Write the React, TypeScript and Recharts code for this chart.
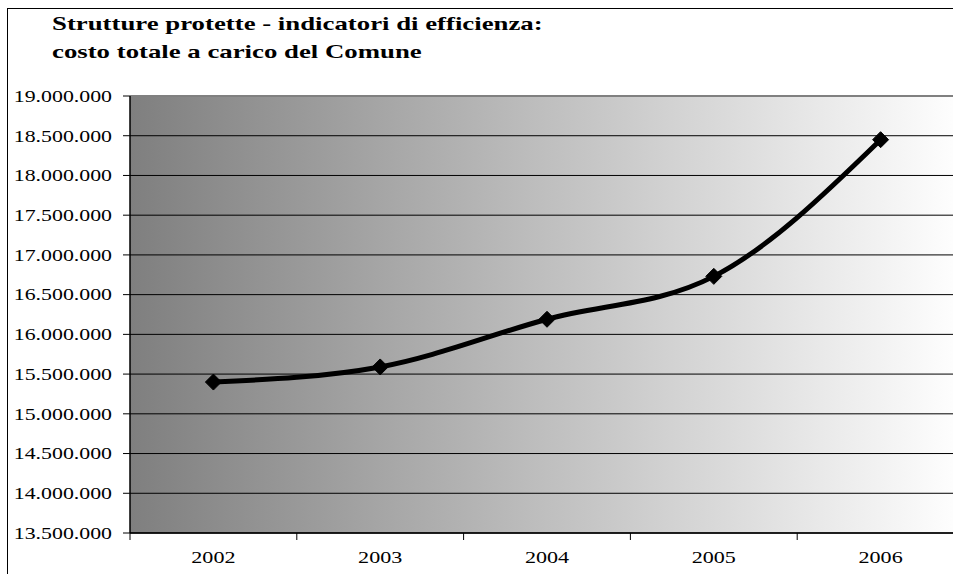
import React from 'react';
import { LineChart, Line, XAxis, YAxis, CartesianGrid, ReferenceLine } from 'recharts';

const titleLines = [
  'Strutture protette - indicatori di efficienza:',
  'costo totale a carico del Comune',
];
const years = ['2002', '2003', '2004', '2005', '2006'];
const costs = [15400000, 15590000, 16190000, 16730000, 18450000];
const yTicks = [
  13500000, 14000000, 14500000, 15000000, 15500000, 16000000,
  16500000, 17000000, 17500000, 18000000, 18500000, 19000000,
];

const data = years.map((year, i) => ({ pos: i + 0.5, year, cost: costs[i] }));
const xTicks: number[] = [];
years.forEach((_, i) => {
  xTicks.push(i);
  xTicks.push(i + 0.5);
});
xTicks.push(years.length);

const FONT = 'Liberation Serif, Times New Roman, serif';
const SX = 1.3;

const fmt = (v: number) => String(Math.round(v)).replace(/\B(?=(\d{3})+(?!\d))/g, '.');

const YTick = (props: any) => {
  const { x, y, payload } = props;
  return (
    <g transform={`translate(${x},${y})`}>
      <text
        transform={`scale(${SX},1)`}
        textAnchor="end"
        dy={5.8}
        style={{ fontFamily: FONT, fontSize: 16.8 }}
        fill="#000"
      >
        {fmt(payload.value)}
      </text>
    </g>
  );
};

const XTick = (props: any) => {
  const { x, y, payload } = props;
  const v = payload.value as number;
  if (Number.isInteger(v)) {
    return <line x1={x} x2={x} y1={y} y2={y + 7} stroke="#000" strokeWidth={1} />;
  }
  const label = years[Math.floor(v)];
  return (
    <g transform={`translate(${x},${y + 30})`}>
      <text transform={`scale(${SX},1)`} textAnchor="middle" style={{ fontFamily: FONT, fontSize: 17 }} fill="#000">
        {label}
      </text>
    </g>
  );
};

const Diamond = (props: any) => {
  const { cx, cy, index } = props;
  const r = 8;
  return (
    <path
      key={`d-${index}`}
      d={`M${cx - r},${cy} L${cx},${cy - r} L${cx + r},${cy} L${cx},${cy + r} Z`}
      fill="#000"
      stroke="#000"
    />
  );
};

export default function App() {
  return (
    <div
      style={{
        position: 'fixed',
        left: 0,
        top: 0,
        width: 953,
        height: 574,
        overflow: 'hidden',
        background: '#fff',
      }}
    >
      <div
        style={{
          position: 'absolute',
          left: 7,
          top: 8,
          width: 2000,
          height: 2000,
          borderLeft: '1px solid #000',
          borderTop: '1px solid #000',
        }}
      />
      <div style={{ position: 'absolute', left: 0, top: 0 }}>
        <LineChart width={970} height={574} data={data} margin={{ top: 96, right: 6, left: 0, bottom: 0 }}>
          <defs>
            <linearGradient id="plotBg" x1="0" y1="0" x2="1" y2="0">
              <stop offset="0%" stopColor="#7f7f7f" />
              <stop offset="100%" stopColor="#ffffff" />
            </linearGradient>
          </defs>
          <CartesianGrid
            vertical={false}
            horizontal
            stroke="#000"
            strokeWidth={1}
            fill="url(#plotBg)"
            fillOpacity={1}
          />
          <XAxis
            dataKey="pos"
            type="number"
            domain={[0, years.length]}
            ticks={xTicks}
            interval={0}
            tickLine={false}
            tickSize={0}
            tickMargin={0}
            axisLine={{ stroke: '#000', strokeWidth: 1.5 }}
            tick={<XTick />}
            height={41}
          />
          <YAxis
            type="number"
            domain={[13500000, 19000000]}
            ticks={yTicks}
            interval={0}
            width={130}
            tickSize={7}
            tickMargin={11}
            tickLine={{ stroke: '#000' }}
            axisLine={{ stroke: '#000', strokeWidth: 1.5 }}
            tick={<YTick />}
          />
          <ReferenceLine y={19000000} stroke="#808080" strokeWidth={2} />
          <Line
            type="monotone"
            dataKey="cost"
            stroke="#000"
            strokeWidth={5}
            dot={Diamond}
            activeDot={false}
            isAnimationActive={false}
          />
        </LineChart>
      </div>
      <svg
        width={953}
        height={80}
        style={{ position: 'absolute', left: 0, top: 0, pointerEvents: 'none' }}
      >
        {titleLines.map((t, i) => (
          <g key={t} transform={`translate(52,${30 + i * 28})`}>
            <text
              transform="scale(1.41,1)"
              style={{ fontFamily: FONT, fontWeight: 'bold', fontSize: 19 }}
              fill="#000"
            >
              {t}
            </text>
          </g>
        ))}
      </svg>
    </div>
  );
}
